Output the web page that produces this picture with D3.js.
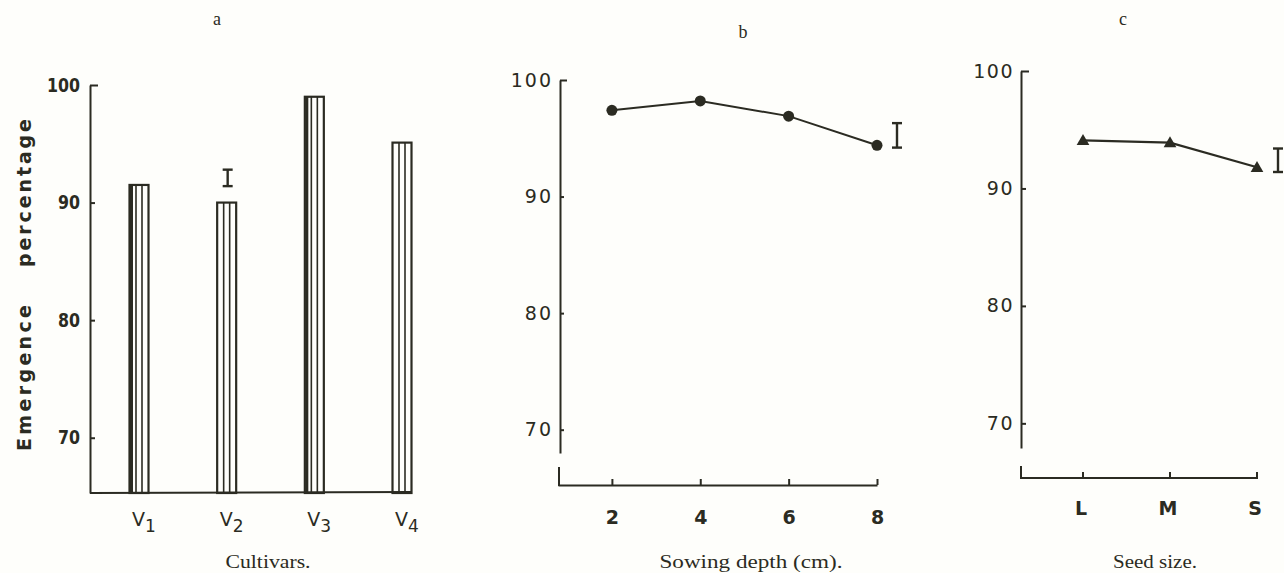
<!DOCTYPE html>
<html>
<head>
<meta charset="utf-8">
<script src="https://cdn.jsdelivr.net/npm/d3@7"></script>
<style>
  body { margin: 0; background: #fefefb; }
  svg { display: block; }
  .tick text { font-family: "DejaVu Sans", sans-serif; fill: #2b2b22; }
</style>
</head>
<body>
<svg id="chart" width="1284" height="573"></svg>
<script>
// ---- data ----
var cultivars = ['V1', 'V2', 'V3', 'V4'];
var cultivarValues = [91.5, 90.0, 99.0, 95.1];
var lsdCultivars = [91.4, 92.8];

var depths = [2, 4, 6, 8];
var depthValues = [97.4, 98.2, 96.9, 94.4];
var lsdDepth = [94.2, 96.3];

var seedSizes = ['L', 'M', 'S'];
var seedValues = [94.1, 93.9, 91.8];
var lsdSeed = [91.4, 93.4];

var yTicks = [70, 80, 90, 100];

var ink = '#2b2b22';
var svg = d3.select('#chart');

function styleAxis(g) {
    g.selectAll('path, line').attr('stroke', ink).attr('stroke-width', 2);
}

function lsdBar(g, x, y0, y1) {
    g.append('line').attr('x1', x).attr('x2', x).attr('y1', y0).attr('y2', y1)
        .attr('stroke', ink).attr('stroke-width', 2.4);
    [y0, y1].forEach(function(y){
        g.append('line').attr('x1', x - 5).attr('x2', x + 5).attr('y1', y).attr('y2', y)
            .attr('stroke', ink).attr('stroke-width', 2.4);
    });
}

// ---- panel a : cultivars ----
var ya = d3.scaleLinear().domain([65.3, 100]).range([493, 85]);
var xa = d3.scalePoint().domain(cultivars).range([139, 402]);
var ga = svg.append('g');

ga.append('g').attr('transform', 'translate(90,0)')
    .call(d3.axisLeft(ya).tickValues(yTicks).tickSizeInner(-5).tickSizeOuter(0).tickPadding(10))
    .call(styleAxis)
    .call(function(g){
        g.selectAll('text').attr('font-size', 19).attr('font-weight', 'bold')
            .attr('textLength', function(d){ return d === 100 ? 33 : 22; })
            .attr('lengthAdjust', 'spacingAndGlyphs');
        g.select('.tick:last-of-type line').attr('x2', 8);
    });

ga.append('line').attr('x1', 90).attr('x2', 412).attr('y1', 493).attr('y2', 492)
    .attr('stroke', ink).attr('stroke-width', 2.2);

var bw = 19;
var bars = ga.selectAll('.bar').data(cultivars).enter().append('g').attr('class', 'bar');
bars.append('rect')
    .attr('x', function(d){ return xa(d) - bw / 2; })
    .attr('y', function(d, i){ return ya(cultivarValues[i]); })
    .attr('width', bw)
    .attr('height', function(d, i){ return ya(65.3) - ya(cultivarValues[i]); })
    .attr('fill', 'none').attr('stroke', ink).attr('stroke-width', 2.2);
[-3, 3].forEach(function(off){
    bars.append('line')
        .attr('x1', function(d){ return xa(d) + off; })
        .attr('x2', function(d){ return xa(d) + off; })
        .attr('y1', function(d, i){ return ya(cultivarValues[i]); })
        .attr('y2', ya(65.3))
        .attr('stroke', ink).attr('stroke-width', 1.6);
});
// heavier left edge on V1 and V3
bars.filter(function(d){ return d === 'V1' || d === 'V3'; }).append('line')
    .attr('x1', function(d){ return xa(d) - bw / 2 + 2; })
    .attr('x2', function(d){ return xa(d) - bw / 2 + 2; })
    .attr('y1', function(d){ return ya(cultivarValues[cultivars.indexOf(d)]); })
    .attr('y2', ya(65.3))
    .attr('stroke', ink).attr('stroke-width', 3);

lsdBar(ga, xa('V2') + 1, ya(lsdCultivars[1]), ya(lsdCultivars[0]));

var vl = ga.selectAll('.vlab').data(cultivars).enter().append('text')
    .attr('x', function(d){ return xa(d) - 7; })
    .attr('y', 526)
    .attr('font-family', 'DejaVu Sans, sans-serif')
    .attr('font-size', 19)
    .attr('fill', ink);
vl.append('tspan').text('V');
vl.append('tspan').attr('dy', 6).attr('font-size', 17).text(function(d){ return d.slice(1); });

// y label: two words, wide gap between them
[['Emergence', 378, 146], ['percentage', 193, 148]].forEach(function(w){
    ga.append('text')
        .attr('transform', 'translate(31,' + w[1] + ') rotate(-90)')
        .attr('text-anchor', 'middle')
        .attr('font-family', 'DejaVu Sans, sans-serif')
        .attr('font-size', 19)
        .attr('font-weight', 'bold')
        .attr('fill', ink)
        .attr('textLength', w[2]).attr('lengthAdjust', 'spacing')
        .text(w[0]);
});

// ---- panel b : sowing depth ----
var yb = d3.scaleLinear().domain([68.0, 100]).range([453, 80]);
var xb = d3.scaleLinear().domain([0.78, 8]).range([558, 877]);
var gb = svg.append('g');

gb.append('g').attr('transform', 'translate(560,0)')
    .call(d3.axisLeft(yb).tickValues(yTicks).tickSizeInner(-4).tickSizeOuter(0).tickPadding(7))
    .call(styleAxis)
    .call(function(g){
        g.selectAll('text').attr('font-size', 19).attr('letter-spacing', 2);
        g.select('.tick:last-of-type line').attr('x2', 7);
    });

gb.append('g').attr('transform', 'translate(0,485)')
    .call(d3.axisBottom(xb).tickValues(depths).tickSizeInner(-6).tickSizeOuter(0).tickPadding(26))
    .call(styleAxis)
    .call(function(g){ g.selectAll('text').attr('font-size', 19).attr('font-weight', 'bold'); });
gb.append('line').attr('x1', 559).attr('x2', 559).attr('y1', 467).attr('y2', 486)
    .attr('stroke', ink).attr('stroke-width', 2);

gb.append('path').datum(depths)
    .attr('d', d3.line().x(function(d){ return xb(d); }).y(function(d, i){ return yb(depthValues[i]); }))
    .attr('fill', 'none').attr('stroke', ink).attr('stroke-width', 2);
gb.selectAll('.pt').data(depths).enter().append('circle')
    .attr('cx', function(d){ return xb(d); })
    .attr('cy', function(d, i){ return yb(depthValues[i]); })
    .attr('r', 5.5).attr('fill', ink);

lsdBar(gb, xb(8) + 20, yb(lsdDepth[1]), yb(lsdDepth[0]));

// ---- panel c : seed size ----
var yc = d3.scaleLinear().domain([67.9, 100]).range([448, 71]);
var xc = d3.scalePoint().domain(seedSizes).range([1083, 1257]);
var gc = svg.append('g');

gc.append('g').attr('transform', 'translate(1021,0)')
    .call(d3.axisLeft(yc).tickValues(yTicks).tickSizeInner(-5).tickSizeOuter(0).tickPadding(7))
    .call(styleAxis)
    .call(function(g){
        g.selectAll('text').attr('font-size', 19).attr('letter-spacing', 1.5);
        g.select('.tick:last-of-type line').attr('x2', 8);
    });

gc.append('line').attr('x1', 1020).attr('x2', 1258).attr('y1', 478).attr('y2', 478)
    .attr('stroke', ink).attr('stroke-width', 2);
gc.append('line').attr('x1', 1021).attr('x2', 1021).attr('y1', 466).attr('y2', 479)
    .attr('stroke', ink).attr('stroke-width', 2);
gc.selectAll('.xt').data(seedSizes).enter().append('line')
    .attr('x1', function(d){ return xc(d); }).attr('x2', function(d){ return xc(d); })
    .attr('y1', 472).attr('y2', 478)
    .attr('stroke', ink).attr('stroke-width', 2);
gc.selectAll('.xl').data(seedSizes).enter().append('text')
    .attr('x', function(d){ return xc(d) - 2; })
    .attr('y', 515)
    .attr('text-anchor', 'middle')
    .attr('font-family', 'DejaVu Sans, sans-serif')
    .attr('font-size', 19)
    .attr('font-weight', 'bold')
    .attr('fill', ink)
    .text(function(d){ return d; });

gc.append('path').datum(seedSizes)
    .attr('d', d3.line().x(function(d){ return xc(d); }).y(function(d, i){ return yc(seedValues[i]); }))
    .attr('fill', 'none').attr('stroke', ink).attr('stroke-width', 2.2);
gc.selectAll('.tri').data(seedSizes).enter().append('path')
    .attr('transform', function(d, i){ return 'translate(' + xc(d) + ',' + (yc(seedValues[i]) + 1) + ')'; })
    .attr('d', d3.symbol().type(d3.symbolTriangle).size(70))
    .attr('fill', ink);

lsdBar(gc, xc('S') + 21, yc(lsdSeed[1]), yc(lsdSeed[0]));

// ---- panel letters and captions ----
var letters = [['a', 217, 25], ['b', 743, 38], ['c', 1123, 25]];
svg.selectAll('.letter').data(letters).enter().append('text')
    .attr('x', function(d){ return d[1]; })
    .attr('y', function(d){ return d[2]; })
    .attr('text-anchor', 'middle')
    .attr('font-family', 'Liberation Serif, serif')
    .attr('font-size', 18)
    .attr('fill', ink)
    .text(function(d){ return d[0]; });

var captions = [['Cultivars.', 268, 85], ['Sowing depth (cm).', 751, 183], ['Seed size.', 1155, 84]];
svg.selectAll('.caption').data(captions).enter().append('text')
    .attr('x', function(d){ return d[1]; })
    .attr('y', 568)
    .attr('text-anchor', 'middle')
    .attr('font-family', 'Liberation Serif, serif')
    .attr('font-size', 18)
    .attr('fill', ink)
    .attr('textLength', function(d){ return d[2]; })
    .attr('lengthAdjust', 'spacingAndGlyphs')
    .text(function(d){ return d[0]; });
</script>
</body>
</html>
